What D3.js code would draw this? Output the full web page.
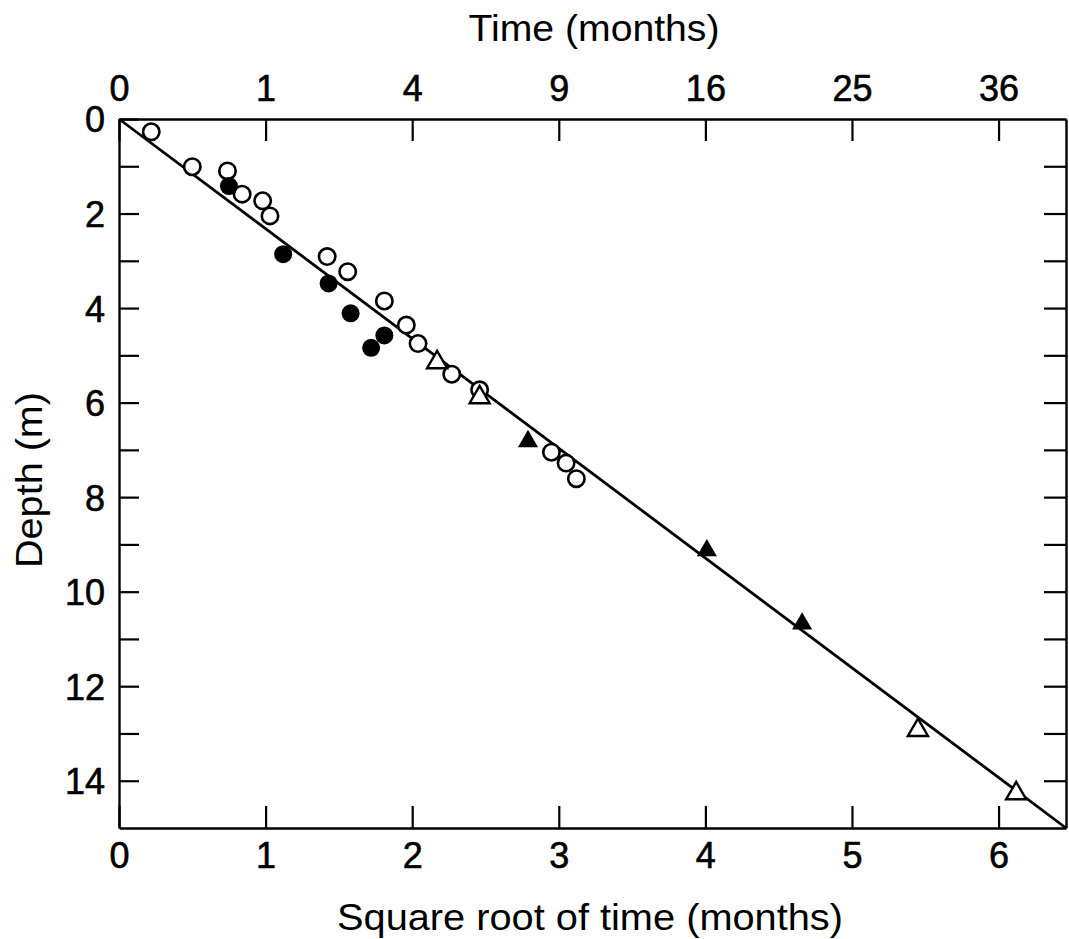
<!DOCTYPE html>
<html lang="en">

<head>
  <meta charset="utf-8">
  <script src='https://d3js.org/d3.v7.min.js'></script>
  <style>
    body { margin: 0; background: #fff; }
    text { font-family: "Liberation Sans", Arial, Helvetica, sans-serif; fill: #000; }
  </style>
</head>

<body>
  <script>

    // data: x = sqrt of time (months), y = depth (m)
    var openCircleX = [0.22, 0.50, 0.74, 0.84, 0.98, 1.03, 1.42, 1.56, 1.81, 1.96, 2.04, 2.27, 2.46, 2.95, 3.05, 3.12];
    var openCircleY = [0.27, 1.01, 1.10, 1.59, 1.73, 2.05, 2.91, 3.23, 3.85, 4.36, 4.75, 5.40, 5.73, 7.05, 7.28, 7.61];

    var filledCircleX = [0.75, 1.12, 1.43, 1.58, 1.72, 1.81];
    var filledCircleY = [1.42, 2.86, 3.48, 4.11, 4.84, 4.58];

    var openTriX = [2.17, 2.46, 5.45, 6.12];
    var openTriY = [5.15, 5.89, 12.93, 14.27];

    var filledTriX = [2.79, 4.01, 4.66];
    var filledTriY = [6.82, 9.13, 10.68];

    // fitted line, depth proportional to sqrt(time)
    var fitX = [0, 6.46];
    var fitY = [0, 15];

    var sqrtTicks = [0, 1, 2, 3, 4, 5, 6];
    var timeLabels = ["0", "1", "4", "9", "16", "25", "36"];
    var depthTicks = [0, 1, 2, 3, 4, 5, 6, 7, 8, 9, 10, 11, 12, 13, 14];

    var width = 1069;
    var height = 939;

    var svg = d3.select("body")
      .append("svg")
      .attr("width", width)
      .attr("height", height);

    var x = d3.scaleLinear().domain([0, 6.46]).range([119, 1066]);
    var y = d3.scaleLinear().domain([0, 15]).range([119, 828]);

    // bottom axis
    var gBottom = svg.append("g")
      .attr("transform", "translate(0," + y(15) + ")")
      .call(d3.axisBottom(x).tickValues(sqrtTicks).tickSizeInner(-22).tickSizeOuter(0).tickPadding(14)
        .tickFormat(d3.format("d")));

    // top axis (time labels = squares)
    var gTop = svg.append("g")
      .attr("transform", "translate(0," + y(0) + ")")
      .call(d3.axisTop(x).tickValues(sqrtTicks).tickSizeInner(-22).tickSizeOuter(0).tickPadding(18)
        .tickFormat(function(d, i) { return timeLabels[i]; }));

    // left axis
    var gLeft = svg.append("g")
      .attr("transform", "translate(" + x(0) + ",0)")
      .call(d3.axisLeft(y).tickValues(depthTicks).tickSizeInner(-20).tickSizeOuter(0).tickPadding(14)
        .tickFormat(function(d) { return d % 2 === 0 ? d : ""; }));

    // right axis, ticks only
    var gRight = svg.append("g")
      .attr("transform", "translate(" + x(6.46) + ",0)")
      .call(d3.axisRight(y).tickValues(depthTicks.slice(1)).tickSizeInner(-22).tickSizeOuter(0)
        .tickFormat(""));

    svg.selectAll(".domain").attr("stroke", "#000").attr("stroke-width", 2.4);
    svg.selectAll(".tick line").attr("stroke", "#000").attr("stroke-width", 2.2);
    svg.selectAll(".tick text")
      .attr("font-size", "36px")
      .attr("font-family", "Liberation Sans, Arial, sans-serif")
      .attr("fill", "#000")
      .attr("stroke", "#000")
      .attr("stroke-width", 0.6);
    gLeft.selectAll(".tick text").attr("dy", "0.36em");

    // fitted line
    var line = d3.line()
      .x(function(d, i) { return x(fitX[i]); })
      .y(function(d, i) { return y(fitY[i]); });

    svg.append("path")
      .datum(fitX)
      .attr("d", line)
      .attr("fill", "none")
      .attr("stroke", "#000")
      .attr("stroke-width", 2.8);

    // circles
    svg.selectAll(".open-circle")
      .data(openCircleX)
      .enter()
      .append("circle")
      .attr("class", "open-circle")
      .attr("cx", function(d) { return x(d); })
      .attr("cy", function(d, i) { return y(openCircleY[i]); })
      .attr("r", 8.2)
      .attr("fill", "#fff")
      .attr("stroke", "#000")
      .attr("stroke-width", 2.6);

    svg.selectAll(".filled-circle")
      .data(filledCircleX)
      .enter()
      .append("circle")
      .attr("class", "filled-circle")
      .attr("cx", function(d) { return x(d); })
      .attr("cy", function(d, i) { return y(filledCircleY[i]); })
      .attr("r", 9)
      .attr("fill", "#000");

    // triangles
    var tri = d3.symbol().type(d3.symbolTriangle).size(175);

    svg.selectAll(".open-tri")
      .data(openTriX)
      .enter()
      .append("path")
      .attr("class", "open-tri")
      .attr("d", tri)
      .attr("transform", function(d, i) { return "translate(" + x(d) + "," + y(openTriY[i]) + ")"; })
      .attr("fill", "#fff")
      .attr("stroke", "#000")
      .attr("stroke-width", 2.4);

    svg.selectAll(".filled-tri")
      .data(filledTriX)
      .enter()
      .append("path")
      .attr("class", "filled-tri")
      .attr("d", tri)
      .attr("transform", function(d, i) { return "translate(" + x(d) + "," + y(filledTriY[i]) + ")"; })
      .attr("fill", "#000");

    // axis titles
    svg.append("text")
      .attr("x", 594)
      .attr("y", 41)
      .attr("text-anchor", "middle")
      .attr("font-size", "36px")
      .attr("textLength", 251)
      .attr("lengthAdjust", "spacingAndGlyphs")
      .text("Time (months)");

    svg.append("text")
      .attr("x", 590)
      .attr("y", 930)
      .attr("text-anchor", "middle")
      .attr("font-size", "36px")
      .attr("textLength", 506)
      .attr("lengthAdjust", "spacingAndGlyphs")
      .text("Square root of time (months)");

    svg.append("text")
      .attr("transform", "translate(42,480) rotate(-90)")
      .attr("text-anchor", "middle")
      .attr("font-size", "36px")
      .attr("textLength", 176)
      .attr("lengthAdjust", "spacingAndGlyphs")
      .text("Depth (m)");

  </script>

</body>

</html>
